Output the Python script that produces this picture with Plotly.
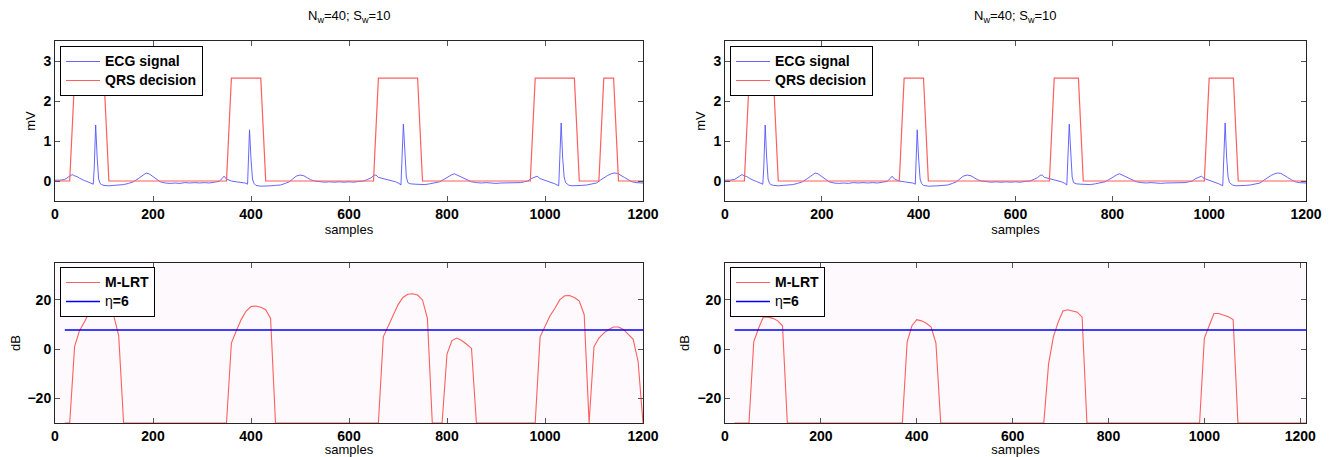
import plotly.graph_objects as go

# ---------------- data ----------------
ecg_x = [0, 10, 20, 27, 32, 35, 40, 45, 50, 55, 60, 65, 70, 75, 78, 80, 83, 86, 89, 92, 95,
         100, 110, 120, 130, 140, 150, 160, 170, 180, 186, 192, 198, 205, 215, 225, 235, 245,
         255, 265, 275, 285, 295, 305, 315, 325, 335, 341, 345, 350, 355, 360, 370, 380, 388,
         393, 397, 400, 403, 406, 410, 420, 430, 440, 450, 460, 470, 478, 485, 492, 500, 508,
         515, 522, 530, 540, 550, 560, 570, 580, 590, 600, 610, 620, 630, 638, 645, 651, 655,
         660, 667, 675, 685, 695, 702, 706, 711, 714, 717, 720, 725, 735, 745, 755, 765, 775,
         785, 795, 803, 810, 815, 822, 830, 840, 850, 860, 870, 880, 890, 900, 910, 920, 930,
         940, 950, 958, 965, 972, 978, 984, 990, 998, 1005, 1012, 1020, 1028, 1033, 1036,
         1039, 1042, 1048, 1055, 1065, 1075, 1085, 1095, 1105, 1113, 1120, 1128, 1135, 1141,
         1148, 1155, 1162, 1170, 1178, 1186, 1194, 1200]
ecg_y = [0.02, 0.02, 0.04, 0.10, 0.15, 0.16, 0.13, 0.11, 0.07, 0.03, 0.01, -0.01, -0.03,
         -0.05, -0.08, 0.30, 1.40, 0.60, 0.05, -0.06, -0.09, -0.11, -0.12, -0.11, -0.10,
         -0.09, -0.06, -0.02, 0.06, 0.15, 0.20, 0.18, 0.13, 0.05, -0.02, -0.05, -0.06, -0.05,
         -0.06, -0.04, -0.05, -0.04, -0.05, -0.04, -0.05, -0.03, -0.01, 0.06, 0.12, 0.05,
         0.02, 0.00, -0.02, -0.03, -0.05, -0.08, 1.28, 0.55, 0.05, -0.06, -0.11, -0.13,
         -0.13, -0.12, -0.11, -0.10, -0.06, -0.02, 0.05, 0.12, 0.15, 0.13, 0.08, 0.03, 0.00,
         -0.02, -0.03, -0.02, -0.03, -0.02, -0.03, -0.02, -0.03, -0.01, 0.00, 0.04, 0.08,
         0.14, 0.15, 0.09, 0.07, 0.05, 0.02, -0.02, -0.06, -0.10, 1.42, 0.70, 0.10, -0.04,
         -0.07, -0.08, -0.08, -0.09, -0.07, -0.05, -0.02, 0.05, 0.12, 0.16, 0.18, 0.14, 0.08,
         0.02, -0.02, -0.04, -0.05, -0.04, -0.05, -0.06, -0.05, -0.05, -0.04, -0.05, -0.04,
         -0.02, 0.00, 0.06, 0.10, 0.12, 0.06, 0.03, 0.00, -0.03, -0.07, -0.12, 1.45, 0.60,
         0.10, -0.04, -0.10, -0.12, -0.12, -0.11, -0.10, -0.08, -0.05, 0.02, 0.08, 0.14,
         0.18, 0.20, 0.19, 0.15, 0.09, 0.03, -0.02, -0.04, -0.05, -0.05]

qrs_left_x = [0, 30, 40, 100, 110, 350, 360, 420, 430, 650, 660, 740, 750, 970, 980, 1060,
              1070, 1110, 1120, 1140, 1150, 1200]
qrs_left_y = [0, 0, 2.57, 2.57, 0, 0, 2.57, 2.57, 0, 0, 2.57, 2.57, 0, 0, 2.57, 2.57, 0, 0,
              2.57, 2.57, 0, 0]
qrs_right_x = [0, 40, 50, 100, 110, 360, 370, 410, 420, 670, 680, 730, 740, 990, 1000, 1050,
               1060, 1200]
qrs_right_y = [0, 0, 2.57, 2.57, 0, 0, 2.57, 2.57, 0, 0, 2.57, 2.57, 0, 0, 2.57, 2.57, 0, 0]

lrt_left_x = [20, 30, 40, 50, 60, 70, 80, 90, 100, 110, 120, 130, 140, 350, 360, 370, 380,
              390, 400, 410, 420, 430, 440, 450, 660, 670, 680, 690, 700, 710, 720, 730, 740,
              750, 760, 770, 790, 800, 810, 820, 830, 840, 850, 860, 980, 990, 1000, 1010,
              1020, 1030, 1040, 1050, 1060, 1070, 1080, 1090, 1100, 1110, 1120, 1130, 1140,
              1150, 1160, 1170, 1180, 1190, 1200]
lrt_left_y = [-30, -30, 1, 7.5, 11, 15, 17.5, 18, 17.5, 15.5, 13.5, 5.5, -30, -30, 2.5, 7.5,
              12, 15.5, 17.3, 17.5, 17, 16, 12.5, -30, -30, 5, 9.5, 14, 18, 21, 22.3, 22.5,
              22, 20, 12.5, -30, -30, -2, 3.5, 4.5, 3.5, 2, 0.3, -30, -30, 5, 9.5, 13.5, 16.5,
              20, 21.7, 21.8, 21, 19.5, 14, -30, 1, 4.5, 6.5, 8, 9, 9, 8, 6, 4, -5, -30]

lrt_right_x = [20, 50, 60, 70, 80, 90, 100, 110, 120, 130, 370, 380, 390, 400, 410, 420, 430,
               440, 450, 665, 675, 685, 695, 705, 715, 725, 735, 745, 755, 990, 1000, 1010,
               1020, 1030, 1040, 1050, 1060, 1070, 1212]
lrt_right_y = [-30, -30, 3, 8.5, 13, 13, 12.5, 11.5, 9.5, -30, -30, 3, 9.5, 12, 11.5, 10.5,
               9, 2.5, -30, -30, -6, 5, 11, 15.5, 16, 15.5, 15, 13, -30, -30, 4.5, 9.5, 14.5,
               14.5, 14, 13.2, 12, -30, -30]

eta_left_x = [20, 1200]
eta_right_x = [20, 1212]
eta_y = [7.8, 7.8]

title_text = "N<sub>w</sub>=40; S<sub>w</sub>=10"

# ---------------- figure ----------------
# the page body has an 8px margin, so the figure is made 8px smaller and
# all reference pixel positions are shifted by that offset
OFF = 8
W, H = 1330 - OFF, 457 - OFF
FONT = "Liberation Sans, Arial, Helvetica, sans-serif"
ECG_C = "rgb(85,85,255)"
RED_C = "rgb(255,95,95)"

def px_x(p):
    return (p - OFF) / W

def px_y(p):
    return 1 - (p - OFF) / H

def big(t):
    return "<span style='font-size:14px'>" + t + "</span>"

LX = (55, 643)
RX = (725, 1306)
TY = (41, 201)
BY = (263, 423)

fig = go.Figure()

# top panels
for i, (qx, qy, leg) in enumerate([(qrs_left_x, qrs_left_y, "legend"),
                                   (qrs_right_x, qrs_right_y, "legend2")]):
    xa = "x" if i == 0 else "x2"
    ya = "y" if i == 0 else "y2"
    fig.add_trace(go.Scatter(x=ecg_x, y=ecg_y, mode="lines", name=big("ECG signal"),
                             line=dict(color=ECG_C, width=0.9), xaxis=xa, yaxis=ya,
                             legend=leg))
    fig.add_trace(go.Scatter(x=qx, y=qy, mode="lines", name=big("QRS decision"),
                             line=dict(color=RED_C, width=1.2), xaxis=xa, yaxis=ya,
                             legend=leg))

# bottom panels
for i, (lx, ly, ex, leg) in enumerate([(lrt_left_x, lrt_left_y, eta_left_x, "legend3"),
                                       (lrt_right_x, lrt_right_y, eta_right_x, "legend4")]):
    xa = "x3" if i == 0 else "x4"
    ya = "y3" if i == 0 else "y4"
    fig.add_trace(go.Scatter(x=lx, y=ly, mode="lines", name=big("M-LRT"),
                             line=dict(color=RED_C, width=1.1), xaxis=xa, yaxis=ya,
                             legend=leg, cliponaxis=True))
    fig.add_trace(go.Scatter(x=ex, y=eta_y, mode="lines",
                             name=big("<span style='font-weight:normal'>η</span>=6"),
                             line=dict(color="rgb(0,0,255)", width=1.5), xaxis=xa, yaxis=ya,
                             legend=leg))

axis_common = dict(showline=True, mirror="ticks", linecolor="#262626", linewidth=1,
                   ticks="inside", ticklen=5, tickcolor="#555555", tickwidth=1,
                   showgrid=False, zeroline=False, automargin=False,
                   tickfont=dict(family=FONT, size=14, color="black", weight="bold"))

def xax(dom, rng, anchor):
    return dict(domain=[px_x(dom[0]), px_x(dom[1])], range=rng, anchor=anchor,
                tickmode="array", tickvals=[0, 200, 400, 600, 800, 1000, 1200],
                title=dict(text="samples", font=dict(family=FONT, size=13, color="black"),
                           standoff=0),
                **axis_common)

def yax(dom, rng, anchor, vals, title):
    return dict(domain=[px_y(dom[1]), px_y(dom[0])], range=rng, anchor=anchor,
                tickmode="array", tickvals=vals,
                title=dict(text=title, font=dict(family=FONT, size=13, color="black"),
                           standoff=4),
                **axis_common)

leg_common = dict(bgcolor="white", bordercolor="black", borderwidth=1,
                  font=dict(family=FONT, size=12, color="black", weight="bold"),
                  xanchor="left", yanchor="top", tracegroupgap=0, itemwidth=34,
                  itemclick=False, itemdoubleclick=False)

fig.update_layout(
    width=W, height=H,
    margin=dict(l=0, r=0, t=0, b=0, autoexpand=False),
    paper_bgcolor="white", plot_bgcolor="white",
    showlegend=True,
    xaxis=xax(LX, [0, 1200], "y"),
    yaxis=yax(TY, [-0.5, 3.5], "x", [0, 1, 2, 3], "mV"),
    xaxis2=xax(RX, [0, 1200], "y2"),
    yaxis2=yax(TY, [-0.5, 3.5], "x2", [0, 1, 2, 3], "mV"),
    xaxis3=xax(LX, [0, 1200], "y3"),
    yaxis3=yax(BY, [-30, 35], "x3", [-20, 0, 20], "dB"),
    xaxis4=xax(RX, [0, 1212], "y4"),
    yaxis4=yax(BY, [-30, 35], "x4", [-20, 0, 20], "dB"),
    legend=dict(x=px_x(LX[0] + 5), y=px_y(46), **leg_common),
    legend2=dict(x=px_x(RX[0] + 5), y=px_y(46), **leg_common),
    legend3=dict(x=px_x(LX[0] + 5), y=px_y(267), **leg_common),
    legend4=dict(x=px_x(RX[0] + 5), y=px_y(267), **leg_common),
)

# light background of the lower panels
for xr, yr in [("x3", "y3"), ("x4", "y4")]:
    fig.add_shape(type="rect", xref=f"{xr} domain", yref=f"{yr} domain",
                  x0=0, x1=1, y0=0, y1=1, fillcolor="#fdf9fd", line=dict(width=0),
                  layer="below")

for cx in [(LX[0] + LX[1]) / 2, (RX[0] + RX[1]) / 2]:
    fig.add_annotation(text=title_text, x=px_x(cx), y=px_y(17), xref="paper", yref="paper",
                       xanchor="center", yanchor="middle", showarrow=False,
                       font=dict(family=FONT, size=13, color="black"))

fig.write_html("out.html")
